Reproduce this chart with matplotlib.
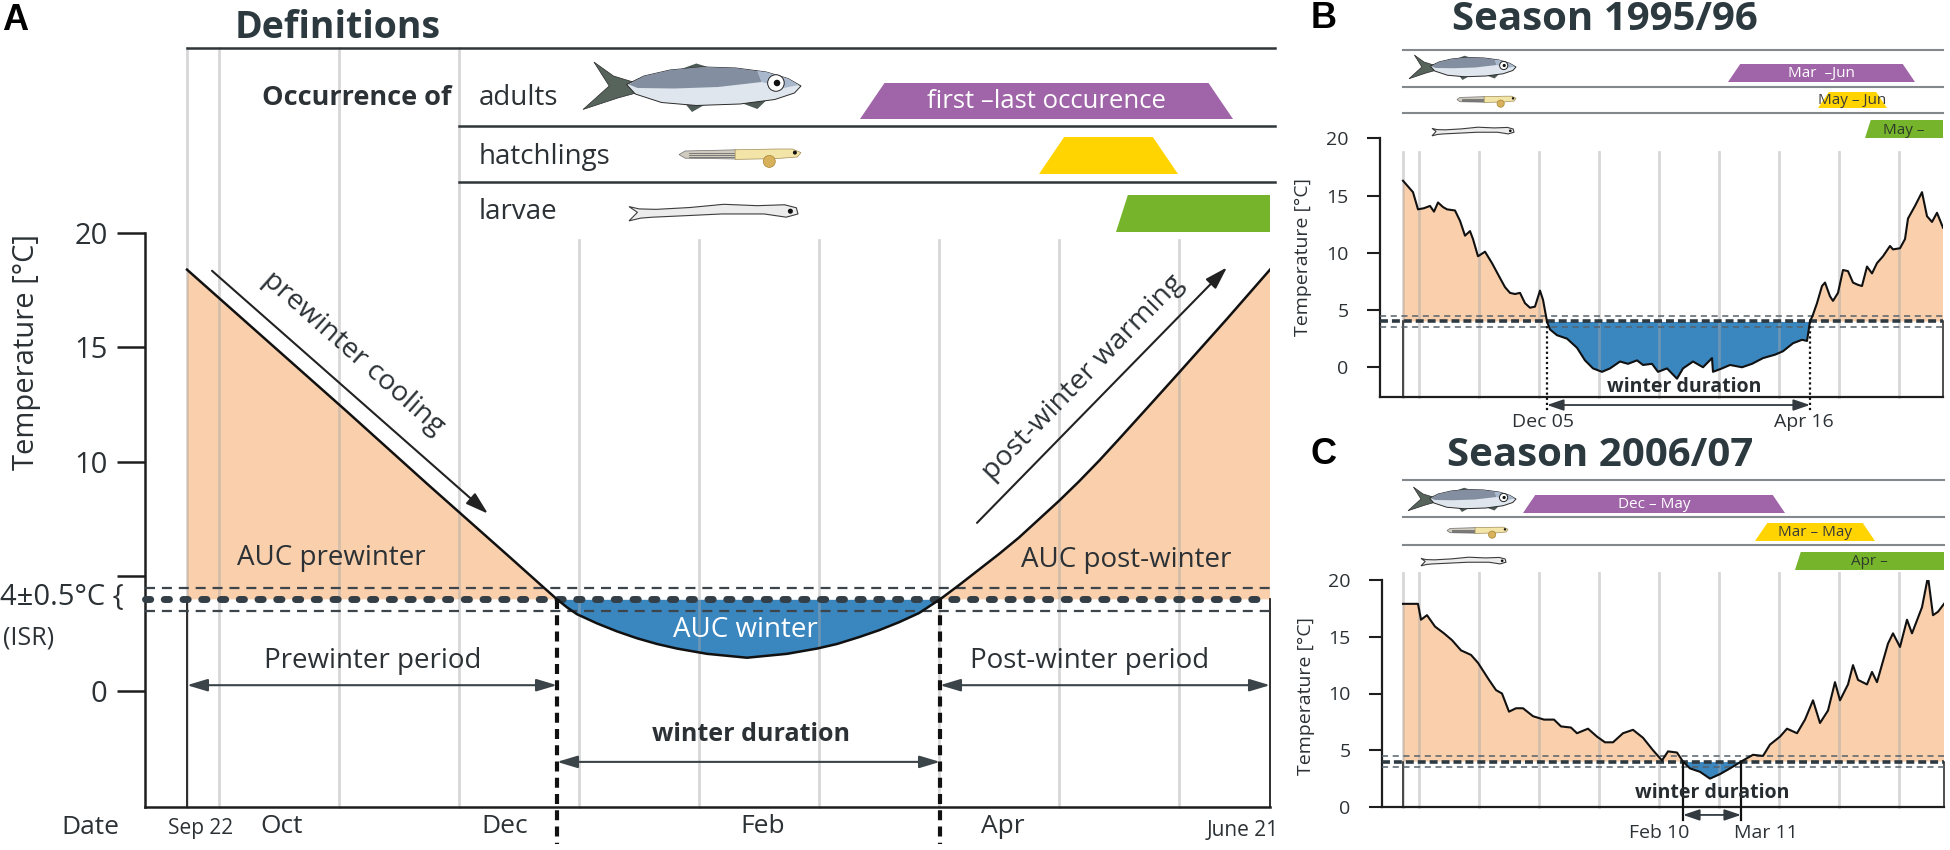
import matplotlib
matplotlib.use('Agg')
import matplotlib.pyplot as plt
import numpy as np
from matplotlib.transforms import Affine2D, blended_transform_factory
from matplotlib.patches import Polygon, Circle
from matplotlib.lines import Line2D

plt.rcParams['font.family'] = ['Open Sans', 'DejaVu Sans']

# ======================= DATA =======================
# x: days since Sep 22 (months drawn as 30-day blocks), y: water temperature (°C)
ISR_T = 4.0
ISR_DT = 0.5
MONTH_STARTS = [8, 38, 68, 98, 128, 158, 188, 218, 248]   # Oct 1 ... Jun 1

# Panel A - schematic season
A_DAYS = [0, 20, 40, 60, 80, 88, 92.5, 95, 97.5, 102.5, 107.5, 112.5, 117.5, 122.5, 130, 140,
          150, 157.5, 162.5, 168, 173, 178, 183, 188.25, 193, 198, 203, 208, 213, 218, 223, 228,
          233, 240, 248, 260, 270.75]
A_TEMP = [18.4, 15.3, 12.2, 9.05, 5.95, 4.7, 4.0, 3.65, 3.35, 2.95, 2.6, 2.3, 2.05, 1.85, 1.62, 1.45,
          1.62, 1.85, 2.05, 2.35, 2.65, 3.0, 3.4, 4.0, 4.62, 5.3, 5.98, 6.7, 7.5, 8.3, 9.15, 10.05,
          11.0, 12.35, 13.9, 16.25, 18.4]
A_WINTER = [92.5, 188.25]
A_MONTH_LABELS = ['Oct', 'Dec', 'Feb', 'Apr']
A_MONTH_LABEL_DAYS = [23.75, 79.5, 144, 204]
A_OCC_START = [168.25, 213, 232.25]
A_OCC_END = [261.5, 247.75, None]
A_OCC_LABELS = ['first \u2013last occurence', '', '']
STAGES = ['adults', 'hatchlings', 'larvae']

# Panel B - season 1995/96
B_SERIES = [(0, 16.3), (2.5, 15.8), (5, 15.3), (7.5, 13.8), (10.5, 13.9), (13.5, 14.1), (15.5, 13.6),
            (17.5, 14.4), (20, 14.0), (22, 13.8), (26, 13.7), (28.5, 12.8), (31, 11.5), (33.5, 11.9),
            (35, 11.2), (37.5, 9.7), (41, 10.1), (44.5, 9.1), (48.5, 7.8), (51, 7.0), (53.5, 6.5),
            (56, 6.4), (58.5, 6.5), (61, 5.6), (63.5, 5.2), (66, 5.3), (68.5, 6.7), (70, 5.9),
            (72, 4.0), (73.5, 3.3), (77, 2.8), (82, 2.5), (87, 1.7), (91, 0.6), (95, -0.1),
            (99.5, -0.4), (103.5, -0.1), (108.5, 0.5), (112.5, 0.3), (117, 0.6), (120, 0.2),
            (124.5, 0.3), (127.5, -0.4), (132, -0.1), (137, -1.0), (140, -0.1), (145, 0.5),
            (150, 0.0), (154.5, 0.8), (155, -0.4), (159.5, -0.1), (163.5, 0.2), (169.5, 0.0),
            (174.5, 0.3), (180, 0.8), (186, 1.1), (190, 1.4), (195, 2.1), (199.5, 2.4), (202, 2.3),
            (203.5, 4.0), (205, 4.6), (207, 5.6), (209.5, 7.1), (211, 7.4), (213.5, 6.2), (215, 5.8),
            (217.5, 6.5), (220, 8.5), (222.5, 8.4), (225, 7.4), (227.5, 7.2), (229.5, 7.1),
            (232, 8.8), (234.5, 8.2), (237, 9.1), (240, 9.7), (243.5, 10.6), (245, 10.3),
            (248.5, 10.4), (251, 11.2), (252.5, 13.0), (256, 14.1), (259.5, 15.3), (262, 13.2),
            (264.5, 12.7), (267, 13.5), (270, 12.2)]
B_WINTER = [72, 203.5]
B_WINTER_LABELS = ['Dec 05', 'Apr 16']
B_OCC_START = [162.5, 207.5, 231]
B_OCC_END = [256, 242, None]
B_OCC_LABELS = ['Mar  \u2013Jun', 'May \u2013 Jun', 'May \u2013']

# Panel C - season 2006/07
C_SERIES = [(0, 17.9), (5, 17.9), (7.5, 17.9), (9, 16.5), (12, 16.9), (16, 15.9), (20.5, 15.3),
            (24.5, 14.7), (29, 13.8), (34, 13.4), (37.5, 12.7), (43, 11.2), (46.5, 10.3), (49.5, 10.0),
            (53, 8.4), (56.5, 8.7), (60, 8.7), (65, 8.0), (70.5, 7.7), (75.5, 7.7), (79, 7.1),
            (84, 7.0), (87, 6.5), (92.5, 6.9), (97, 6.2), (101, 5.7), (105, 5.7), (110, 6.5),
            (115, 6.8), (120, 6.1), (125, 5.0), (129.5, 4.1), (132.5, 4.9), (137, 4.8), (140, 4.0),
            (143.5, 3.4), (148.5, 3.1), (153.5, 2.5), (158.5, 2.9), (163.5, 3.4), (169, 4.0),
            (175, 4.6), (180, 4.5), (183.5, 5.5), (188.5, 6.2), (192, 6.9), (197, 6.5), (201, 7.7),
            (205, 9.4), (208.5, 7.4), (212.5, 8.5), (216, 11.0), (218.5, 9.4), (222.5, 10.8),
            (225, 12.5), (227.5, 11.2), (232, 10.8), (234.5, 11.9), (237, 11.0), (242.5, 14.4),
            (245, 15.3), (248.5, 14.1), (252, 16.5), (254.5, 15.3), (259.5, 17.6), (262.5, 20.3),
            (265, 16.9), (267.5, 17.2), (270.5, 17.9)]
C_WINTER = [140, 169]
C_WINTER_LABELS = ['Feb 10', 'Mar 11']
C_OCC_START = [60, 176, 196]
C_OCC_END = [191, 236, None]
C_OCC_LABELS = ['Dec \u2013 May', 'Mar \u2013 May', 'Apr \u2013']

# ======================= STYLE =======================
W, H = 1950, 850
TXT = '#2b3135'
DARK = '#1e1e1e'
ORANGE = '#f9cfac'
BLUE = '#3a86bf'
GRIDC = '#a8a8a8'
OCC_COLORS = ['#a064a8', '#ffd400', '#76b52b']

fig = plt.figure(figsize=(W / 100, H / 100), dpi=100)
PX = Affine2D().scale(1.0 / W, -1.0 / H).translate(0, 1) + fig.transFigure


def add_ax(l, t, r, b):
    ax = fig.add_axes([l / W, 1 - b / H, (r - l) / W, (b - t) / H])
    ax.patch.set_visible(False)
    return ax


def setup(ax, xlim, ylim, ticklabels, tlen, tw, pad, lsize, sw):
    ax.set_xlim(*xlim)
    ax.set_ylim(*ylim)
    ax.set_autoscale_on(False)
    for s in ['top', 'right']:
        ax.spines[s].set_visible(False)
    for s in ['left', 'bottom']:
        ax.spines[s].set_linewidth(sw)
        ax.spines[s].set_color(DARK)
    ax.set_xticks([])
    ax.set_yticks([0, 5, 10, 15, 20])
    ax.set_yticklabels(ticklabels)
    ax.tick_params(axis='y', length=tlen, width=tw, pad=pad, labelsize=lsize,
                   color=DARK, labelcolor=TXT)


def fish_adult(x0, y0, w, h):
    def P(pts):
        return [(x0 + u * w, y0 + h / 2 + v * h) for u, v in pts]
    tail = [(0.26, -0.06), (0.14, -0.22), (0.05, -0.50), (0.12, -0.02), (0.0, 0.45), (0.16, 0.22),
            (0.26, 0.10)]
    body = [(0.20, -0.05), (0.28, -0.22), (0.40, -0.34), (0.55, -0.40), (0.70, -0.38), (0.84, -0.30),
            (0.94, -0.17), (1.0, -0.02), (0.97, 0.12), (0.88, 0.25), (0.72, 0.34), (0.52, 0.37),
            (0.36, 0.31), (0.24, 0.14)]
    back = [(0.21, -0.05), (0.28, -0.22), (0.40, -0.34), (0.55, -0.40), (0.70, -0.38), (0.80, -0.32),
            (0.82, -0.10), (0.62, 0.0), (0.42, 0.03), (0.25, 0.02)]
    fins = [[(0.47, 0.34), (0.50, 0.50), (0.56, 0.35)], [(0.72, 0.31), (0.80, 0.44), (0.84, 0.27)],
            [(0.45, -0.36), (0.52, -0.47), (0.58, -0.39)]]
    for f in fins:
        fig.add_artist(Polygon(P(f), closed=True, transform=PX, fc='#4d5a55', ec='none', zorder=5))
    fig.add_artist(Polygon(P(tail), closed=True, transform=PX, fc='#56645c', ec='#2a2a2a', lw=0.5, zorder=5))
    fig.add_artist(Polygon(P(body), closed=True, transform=PX, fc='#dfe6ee', ec='#2a2a2a', lw=0.7, zorder=6))
    fig.add_artist(Polygon(P(back), closed=True, transform=PX, fc='#838fa0', ec='none', zorder=6.5))
    head = [(0.80, -0.32), (0.84, -0.30), (0.94, -0.17), (0.99, -0.04), (0.92, 0.02), (0.82, -0.10)]
    fig.add_artist(Polygon(P(head), closed=True, transform=PX, fc='#a9b8cc', ec='none', zorder=6.6))
    ex, ey = x0 + 0.885 * w, y0 + h / 2 - 0.08 * h
    fig.add_artist(Circle((ex, ey), 0.038 * w, transform=PX, fc='white', ec='#222', lw=0.7, zorder=7))
    fig.add_artist(Circle((ex + 0.005 * w, ey), 0.015 * w, transform=PX, fc='#111', ec='none', zorder=7.5))


def fish_hatch(x0, y0, w, h):
    def P(pts):
        return [(x0 + u * w, y0 + v * h) for u, v in pts]
    back = [(0.0, 0.38), (0.05, 0.20), (0.47, 0.14), (0.47, 0.60), (0.05, 0.56)]
    front = [(0.46, 0.14), (0.80, 0.10), (0.93, 0.10), (1.0, 0.28), (0.97, 0.50), (0.80, 0.58), (0.46, 0.62)]
    fig.add_artist(Polygon(P(back), closed=True, transform=PX, fc='#cfcbbf', ec='#6f6f6f', lw=0.5, zorder=5))
    for v in (0.30, 0.40, 0.50):
        fig.add_artist(Line2D([x0 + 0.08 * w, x0 + 0.45 * w], [y0 + v * h, y0 + v * h],
                              transform=PX, color='#6b6b6b', lw=0.6, zorder=5.2))
    fig.add_artist(Polygon(P(front), closed=True, transform=PX, fc='#f3e4a8', ec='#a08d58', lw=0.5, zorder=5.5))
    fig.add_artist(Circle((x0 + 0.74 * w, y0 + 0.72 * h), 0.30 * h, transform=PX, fc='#d8b15c',
                          ec='#a78530', lw=0.5, zorder=6))
    fig.add_artist(Circle((x0 + 0.95 * w, y0 + 0.28 * h), 0.10 * h, transform=PX, fc='#111', ec='none', zorder=6.5))


def fish_larva(x0, y0, w, h):
    def P(pts):
        return [(x0 + u * w, y0 + v * h) for u, v in pts]
    body = [(0.0, 0.20), (0.05, 0.45), (0.0, 0.82), (0.07, 0.70), (0.14, 0.66), (0.32, 0.60), (0.55, 0.52),
            (0.80, 0.52), (0.93, 0.66), (1.0, 0.52), (0.99, 0.25), (0.92, 0.12), (0.76, 0.16),
            (0.56, 0.10), (0.36, 0.24), (0.16, 0.32), (0.06, 0.30)]
    fig.add_artist(Polygon(P(body), closed=True, transform=PX, fc='#ececec', ec='#3c3c3c', lw=0.8, zorder=5))
    fig.add_artist(Circle((x0 + 0.955 * w, y0 + 0.40 * h), 0.11 * h, transform=PX, fc='#111', ec='none', zorder=6))


def draw_occ(ax, ppd, rows, starts, ends, labels, tcolors, fsize):
    T = blended_transform_factory(ax.transData, PX)
    xmax = ax.get_xlim()[1]
    for (y0, y1), s, e, lab, col, tc in zip(rows, starts, ends, labels, OCC_COLORS, tcolors):
        h = y1 - y0
        if e is None:
            sl = 0.32 * h / ppd
            pts = [(s, y1), (s + sl, y0), (xmax, y0), (xmax, y1)]
            xc = (s + xmax) / 2
        else:
            sl = 0.68 * h / ppd
            pts = [(s, y1), (s + sl, y0), (e - sl, y0), (e, y1)]
            xc = (s + e) / 2
        ax.add_patch(Polygon(pts, closed=True, transform=T, fc=col, ec='none', clip_on=False, zorder=3))
        if lab:
            ax.text(xc, (y0 + y1) / 2 + 1, lab, transform=T, ha='center', va='center',
                    fontsize=fsize, color=tc, zorder=4)


def draw_season(ax, days, temps, lw):
    d = np.asarray(days, float)
    t = np.asarray(temps, float)
    ax.fill_between(d, t, ISR_T, where=t >= ISR_T, interpolate=True, color=ORANGE, lw=0, zorder=1)
    ax.fill_between(d, t, ISR_T, where=t <= ISR_T, interpolate=True, color=BLUE, lw=0, zorder=1)
    ax.plot(d, t, color='#111111', lw=lw, zorder=6, solid_joinstyle='round')


def gridlines(ax, tops, bottom_px, start_day):
    T = blended_transform_factory(ax.transData, PX)
    for dday, top in zip([start_day] + MONTH_STARTS, tops):
        ax.add_line(Line2D([dday, dday], [top, bottom_px], transform=T, color=GRIDC, lw=2.0,
                           alpha=0.45, zorder=2, clip_on=False))


def isr_lines(ax, thick_lw, thick_dash, thin_lw, thin_dash, thick_col, thin_col, cap):
    x0, x1 = ax.get_xlim()
    ax.plot([x0, x1], [ISR_T, ISR_T], color=thick_col, lw=thick_lw, dashes=thick_dash,
            dash_capstyle=cap, zorder=5, clip_on=False)
    for yy in (ISR_T - ISR_DT, ISR_T + ISR_DT):
        ax.plot([x0, x1], [yy, yy], color=thin_col, lw=thin_lw, dashes=thin_dash, zorder=5, clip_on=False)


def end_lines(ax, start_day, lw):
    x0, x1 = ax.get_xlim()
    y0 = ax.get_ylim()[0]
    ax.plot([start_day, start_day], [y0, ISR_T], color=DARK, lw=lw, zorder=4, clip_on=False)
    ax.plot([x1, x1], [y0, ISR_T], color=DARK, lw=lw, zorder=4, clip_on=False)


# ======================= PANEL A =======================
axA = add_ax(145, 233, 1270, 807)
setup(axA, (-10.5, 270.75), (-5.07, 20.0), ['0', '', '10', '15', '20'], 20, 1.8, 7, 21, 1.8)
TA = blended_transform_factory(axA.transData, PX)

draw_season(axA, A_DAYS, A_TEMP, 1.8)
gridlines(axA, [48, 48, 48, 48] + [240] * 6, 807, 0)
isr_lines(axA, 5, (0.75, 1.95), 1.6, (4.5, 3.1), '#333e46', '#3d454b', 'round')
end_lines(axA, 0, 1.3)

for wd in A_WINTER:
    axA.plot([wd, wd], [ISR_T, -6.7], color='#111', lw=3, dashes=(2.4, 1.5), zorder=6, clip_on=False)

# occurrence area
axA.add_line(Line2D([0, 272], [48, 48], transform=TA, color='#2f3538', lw=1.8, clip_on=False))
for yy in (126, 182):
    axA.add_line(Line2D([68, 272], [yy, yy], transform=TA, color='#2f3538', lw=1.8, clip_on=False))
draw_occ(axA, 4.0, [(83, 119), (137, 174), (195, 232)], A_OCC_START, A_OCC_END, A_OCC_LABELS,
         ['white', TXT, TXT], 18.5)
fig.text(451 / W, 1 - 98 / H, 'Occurrence of', ha='right', va='center', fontsize=19.5,
         fontweight='bold', color=TXT)
for lab, yy in zip(STAGES, [98, 157, 212]):
    fig.text(479 / W, 1 - yy / H, lab, ha='left', va='center', fontsize=20, color=TXT)
fish_adult(583, 62, 218, 50)
fish_hatch(679, 147, 122, 20)
fish_larva(629, 202, 169, 23)

fig.text(2 / W, 1 - 20 / H, 'A', ha='left', va='center', fontsize=26, fontweight='bold',
         family=['Liberation Sans', 'DejaVu Sans'], color='black')
fig.text(235 / W, 1 - 28 / H, 'Definitions', ha='left', va='center', fontsize=27,
         fontweight='bold', color='#2c3a40')

# annotations
axA.text(36, 5.8, 'AUC prewinter', ha='center', va='center', fontsize=20, color=TXT, zorder=7)
axA.text(234.75, 5.72, 'AUC post-winter', ha='center', va='center', fontsize=20, color=TXT, zorder=7)
axA.text(139.5, 2.66, 'AUC winter', ha='center', va='center', fontsize=20, color='white', zorder=7)
axA.text(46.5, 1.3, 'Prewinter period', ha='center', va='center', fontsize=20, color=TXT, zorder=7)
axA.text(225.75, 1.3, 'Post-winter period', ha='center', va='center', fontsize=20, color=TXT, zorder=7)
axA.text(141, -1.92, 'winter duration', ha='center', va='center', fontsize=18, fontweight='bold',
         color=TXT, zorder=7)
arrow_kw = dict(arrowstyle='<|-|>,head_length=0.5,head_width=0.15', color='#3b4449', lw=1.5,
                shrinkA=0, shrinkB=0, mutation_scale=25)
axA.annotate('', xy=(A_WINTER[0], 0.25), xytext=(0, 0.25), arrowprops=arrow_kw, zorder=7)
axA.annotate('', xy=(axA.get_xlim()[1], 0.25), xytext=(A_WINTER[1], 0.25), arrowprops=arrow_kw, zorder=7)
axA.annotate('', xy=(A_WINTER[1], -3.1), xytext=(A_WINTER[0], -3.1), arrowprops=arrow_kw, zorder=7)
one_kw = dict(arrowstyle='-|>,head_length=0.55,head_width=0.17', color='#222', lw=1.5,
              shrinkA=0, shrinkB=0, mutation_scale=25)
axA.annotate('', xy=(75.25, 7.74), xytext=(6.25, 18.35), arrowprops=one_kw, annotation_clip=False)
axA.annotate('', xy=(260, 18.5), xytext=(197.5, 7.34), arrowprops=one_kw, annotation_clip=False)
axA.text(41.5, 14.76, 'prewinter cooling', rotation=-41.4, rotation_mode='anchor', ha='center',
         va='center', fontsize=20.5, color=TXT, zorder=7)
axA.text(224, 13.7, 'post-winter warming', rotation=45.7, rotation_mode='anchor', ha='center',
         va='center', fontsize=20.5, color=TXT, zorder=7)

# axis labels
fig.text(27 / W, 1 - 352 / H, 'Temperature [\u00b0C]', rotation=90, ha='center', va='center',
         fontsize=21, color=TXT)
fig.text(0 / W, 1 - 598 / H, '4\u00b10.5\u00b0C {', ha='left', va='center', fontsize=21, color=TXT)
fig.text(3 / W, 1 - 638 / H, '(ISR)', ha='left', va='center', fontsize=18, color=TXT)
fig.text(90 / W, 1 - 827 / H, 'Date', ha='center', va='center', fontsize=19, color=TXT)
axA.text(3.5, 829, 'Sep 22', transform=TA, ha='center', va='center', fontsize=15, color=TXT)
for lab, dd in zip(A_MONTH_LABELS, A_MONTH_LABEL_DAYS):
    axA.text(dd, 827, lab, transform=TA, ha='center', va='center', fontsize=19, color=TXT)
axA.text(264, 831, 'June 21', transform=TA, ha='center', va='center', fontsize=15, color=TXT)


# ======================= PANELS B, C =======================
def small_panel(box, xlim, ylim, series, winter, wlabels, occ_rows, row_lines, fish_boxes,
                occ_start, occ_end, occ_labels, title, title_y, grid_top, ylab_xy,
                vstyle, vbottom, arrow_y, wlab_x, wdur, date_y):
    l, t, r, b = box
    ax = add_ax(l, t, r, b)
    setup(ax, xlim, ylim, ['0', '5', '10', '15', '20'], 9.5, 1.5, 13, 14, 1.6)
    T = blended_transform_factory(ax.transData, PX)
    days = [p[0] for p in series]
    temps = [p[1] for p in series]
    draw_season(ax, days, temps, 1.5)
    gridlines(ax, [grid_top] * 10, b, 0)
    isr_lines(ax, 2.6, (2.2, 1.1), 1.1, (4, 3), '#2e3a42', '#56626b', 'butt')
    end_lines(ax, 0, 1.1)
    for wd in winter:
        if vstyle == 'dotted':
            ax.plot([wd, wd], [ISR_T, vbottom], color='#111', lw=1.6, dashes=(1.0, 1.3), zorder=6,
                    clip_on=False)
        else:
            ax.plot([wd, wd], [ISR_T, vbottom], color='#111', lw=1.6, zorder=6, clip_on=False)
    ax.annotate('', xy=(winter[1], arrow_y), xytext=(winter[0], arrow_y), annotation_clip=False,
                arrowprops=dict(arrowstyle='<|-|>,head_length=0.5,head_width=0.17', color='#333b40',
                                lw=1.3, shrinkA=0, shrinkB=0, mutation_scale=20))
    ax.text(np.mean(winter) + wdur[1], wdur[0], 'winter duration', ha='center', va='center',
            fontsize=14, fontweight='bold', color='#262c30', zorder=8)
    for lab, xd in zip(wlabels, wlab_x):
        ax.text(xd, date_y, lab, transform=T, ha='center', va='center', fontsize=14, color=TXT)
    for yy in row_lines:
        ax.add_line(Line2D([0, xlim[1]], [yy, yy], transform=T, color='#82888c', lw=1.5, clip_on=False))
    draw_occ(ax, 2.0, occ_rows, occ_start, occ_end, occ_labels, ['white', '#3a3a3a', '#2f3b2a'], 11)
    fish_adult(*fish_boxes[0])
    fish_hatch(*fish_boxes[1])
    fish_larva(*fish_boxes[2])
    fig.text(title[1] / W, 1 - title_y / H, title[0], ha='left', va='center', fontsize=29,
             fontweight='bold', color='#2c3a40')
    fig.text(ylab_xy[0] / W, 1 - ylab_xy[1] / H, 'Temperature [\u00b0C]', rotation=90, ha='center',
             va='center', fontsize=14, color=TXT)
    return ax


axB = small_panel((1380, 138.4, 1943, 397), (-11.5, 270), (-2.6, 20), B_SERIES, B_WINTER,
                  B_WINTER_LABELS, [(64, 82), (92, 108), (120, 138)], [50, 87, 113],
                  [(1409, 55, 107, 25), (1457, 95, 59, 12), (1432, 126, 82, 12)],
                  B_OCC_START, B_OCC_END, B_OCC_LABELS, ('Season 1995/96', 1452), 20, 152,
                  (1303, 257), 'dotted', -4.0, -3.3, [70.25, 200.5], (-1.75, 3), 422)
axC = small_panel((1382, 580, 1944, 807), (-10.5, 270.5), (0, 20), C_SERIES, C_WINTER,
                  C_WINTER_LABELS, [(495, 513), (523, 541), (552, 570)], [480, 517, 545],
                  [(1408, 487, 108, 25), (1447, 526, 61, 12), (1421, 556, 85, 12)],
                  C_OCC_START, C_OCC_END, C_OCC_LABELS, ('Season 2006/07', 1447), 455, 573,
                  (1306, 696), 'solid', -1.15, -0.7, [128.25, 181.5], (1.25, 0), 833)
for letter, ly in (('B', 18), ('C', 455)):
    fig.text(1311 / W, 1 - ly / H, letter, ha='left', va='center', fontsize=26, fontweight='bold',
             family=['Liberation Sans', 'DejaVu Sans'], color='black')

fig.savefig('out.png', dpi=100)
